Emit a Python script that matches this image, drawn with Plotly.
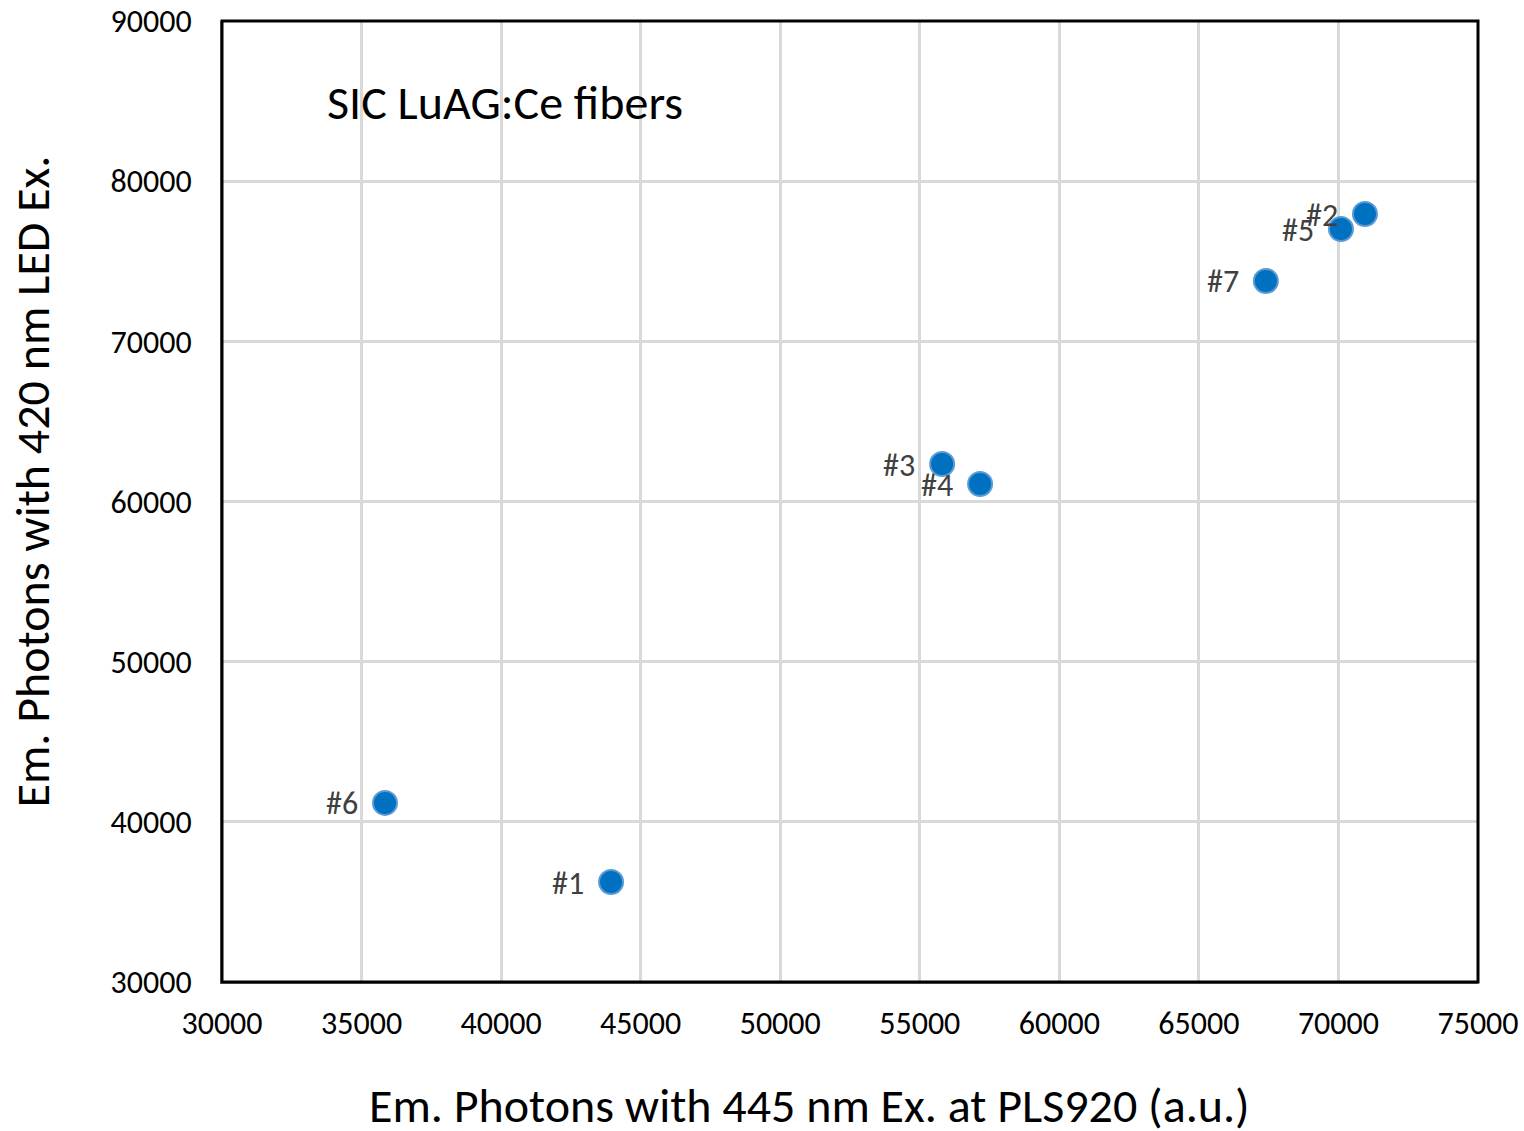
import plotly.graph_objects as go

labels = ["#1", "#2", "#3", "#4", "#5", "#6", "#7"]
x_vals = [43940, 70950, 55800, 57160, 70090, 35840, 67400]
y_vals = [36240, 77950, 62340, 61090, 77010, 41180, 73770]

title_text = "SIC LuAG:Ce fibers"
x_title = "Em. Photons with 445 nm Ex. at PLS920 (a.u.)"
y_title = "Em. Photons with 420 nm LED Ex."

font_family = "Carlito, Calibri, 'Open Sans', 'Liberation Sans', sans-serif"

fig = go.Figure()
fig.add_trace(go.Scatter(
    x=x_vals, y=y_vals,
    mode="markers",
    marker=dict(size=24, color="#0070C0", line=dict(color="#5B9BD5", width=2)),
    showlegend=False,
    cliponaxis=False,
))

for lx, ly, lt in zip(x_vals, y_vals, labels):
    fig.add_annotation(
        x=lx, y=ly, text=lt, showarrow=False,
        xanchor="right", yanchor="middle", xshift=-25, yshift=-1,
        font=dict(size=32, color="#404040", family=font_family),
    )

fig.add_annotation(
    x=0.082, y=0.9157, xref="paper", yref="paper",
    text=title_text, showarrow=False, xanchor="left", yanchor="middle",
    font=dict(size=48, color="#000000", family=font_family),
)
fig.add_annotation(
    x=0.468, y=-0.129, xref="paper", yref="paper",
    text=x_title, showarrow=False, xanchor="center", yanchor="middle",
    font=dict(size=48, color="#000000", family=font_family),
)
fig.add_annotation(
    x=-0.1505, y=0.5208, xref="paper", yref="paper",
    text=y_title, showarrow=False, xanchor="center", yanchor="middle",
    textangle=-90,
    font=dict(size=48, color="#000000", family=font_family),
)

fig.add_shape(type="rect", xref="paper", yref="paper", x0=0, y0=0, x1=1, y1=1,
              line=dict(color="#000000", width=3), layer="above")

fig.update_layout(
    width=1524, height=1131,
    margin=dict(l=222, r=46, t=21, b=149),
    paper_bgcolor="white", plot_bgcolor="white",
    font=dict(family=font_family, color="#000000"),
)
fig.update_xaxes(
    range=[30000, 75000], dtick=5000, tick0=30000, tickformat="d",
    showgrid=True, gridcolor="#D9D9D9", gridwidth=3,
    zeroline=False, showline=True, linecolor="#7F7F7F", linewidth=2,
    ticks="", tickfont=dict(size=32, color="#000000"), ticklabelstandoff=12,
    automargin=False,
)
fig.update_yaxes(
    range=[30000, 90000], dtick=10000, tick0=30000, tickformat="d",
    showgrid=True, gridcolor="#D9D9D9", gridwidth=3,
    zeroline=False, showline=True, linecolor="#7F7F7F", linewidth=2,
    ticks="", tickfont=dict(size=32, color="#000000"), ticklabelstandoff=22,
    automargin=False,
)

fig.write_html("out.html")
